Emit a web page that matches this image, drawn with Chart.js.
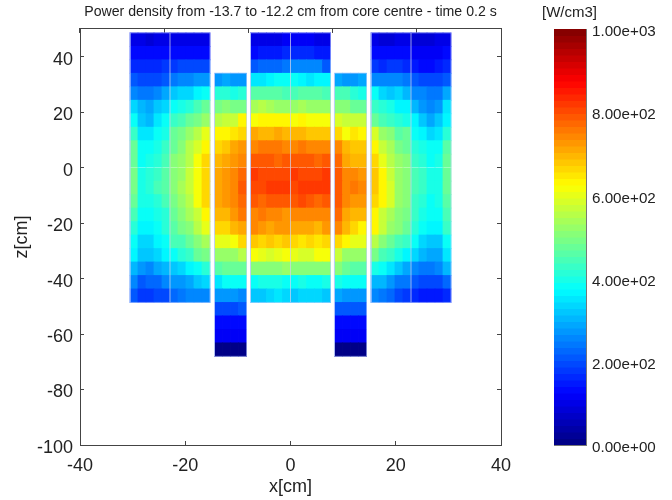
<!DOCTYPE html>
<html>
<head>
<meta charset="utf-8">
<title>Power density</title>
<script src="https://cdn.jsdelivr.net/npm/chart.js@4"></script>
<style>
    html, body { margin: 0; padding: 0; background: #fff; }
    #wrap { position: relative; width: 672px; height: 500px; }
    canvas { position: absolute; top: 0; display: block; }
    #mainChart { left: 0; }
    #barChart { left: 530px; }
</style>
</head>
<body>
<div id="wrap">
    <canvas id="mainChart" width="672" height="500"></canvas>
    <canvas id="barChart" width="142" height="500"></canvas>
</div>
<script>
const titleText = 'Power density from -13.7 to -12.2 cm from core centre - time 0.2 s';
const unitText = '[W/cm3]';
const xTicks = [-40, -20, 0, 20, 40];
const zTicks = [-100, -80, -60, -40, -20, 0, 20, 40];
const barTicks = [0, 200, 400, 600, 800, 1000];
const barLabels = ['0.00e+00', '2.00e+02', '4.00e+02', '6.00e+02', '8.00e+02', '1.00e+03'];

// z edges of the rows, top to bottom [cm]
const zEdges = [48.6, 43.74, 38.88, 34.02, 29.16, 24.3, 19.44, 14.58, 9.72, 4.86, 0,
    -4.86, -9.72, -14.58, -19.44, -24.3, -29.16, -34.02, -38.88, -43.74, -48.6,
    -53.46, -58.32, -63.18, -68.04];

// column centres of each assembly group [cm]
const leftOuterX = [-29.74, -28.22, -26.7, -25.18, -23.66, -22.14, -20.62, -19.1, -17.58, -16.06];
const leftInnerX = [-13.68, -12.16, -10.64, -9.12];
const centreX = [-6.84, -5.32, -3.8, -2.28, -0.76, 0.76, 2.28, 3.8, 5.32, 6.84];
const rightInnerX = [9.12, 10.64, 12.16, 13.68];
const rightOuterX = [16.06, 17.58, 19.1, 20.62, 22.14, 23.66, 25.18, 26.7, 28.22, 29.74];

// power density, rows top to bottom [W/cm3]
const leftOuter = [
    [100, 100, 90, 95, 100, 105, 105, 105, 105, 95],
    [130, 130, 130, 130, 130, 135, 135, 135, 135, 135],
    [165, 170, 165, 170, 175, 185, 190, 190, 190, 190],
    [205, 190, 190, 200, 210, 235, 250, 260, 280, 280],
    [265, 235, 245, 265, 285, 320, 335, 340, 365, 375],
    [340, 310, 285, 320, 340, 380, 395, 410, 440, 470],
    [375, 320, 300, 345, 375, 430, 440, 470, 490, 520],
    [425, 350, 350, 375, 400, 470, 490, 520, 560, 600],
    [470, 385, 385, 400, 430, 480, 510, 550, 590, 630],
    [480, 390, 395, 420, 450, 500, 520, 560, 620, 660],
    [490, 405, 410, 430, 455, 510, 530, 570, 620, 670],
    [495, 405, 415, 440, 460, 510, 540, 570, 620, 670],
    [470, 395, 400, 420, 445, 495, 520, 560, 610, 660],
    [440, 385, 375, 400, 420, 480, 505, 540, 570, 630],
    [420, 370, 360, 385, 410, 465, 490, 510, 550, 600],
    [385, 340, 340, 370, 385, 440, 450, 470, 510, 540],
    [360, 320, 320, 340, 365, 390, 410, 430, 470, 490],
    [305, 275, 260, 290, 310, 320, 340, 365, 375, 410],
    [255, 215, 225, 225, 250, 280, 280, 295, 320, 340],
    [210, 175, 175, 195, 195, 225, 240, 250, 255, 265]
];
const leftInner = [
    [280, 285, 280, 275],
    [420, 410, 405, 410],
    [490, 500, 490, 495],
    [550, 570, 575, 625],
    [635, 630, 650, 670],
    [670, 680, 710, 725],
    [700, 705, 725, 745],
    [710, 730, 745, 775],
    [715, 730, 745, 785],
    [715, 725, 745, 780],
    [690, 700, 725, 750],
    [660, 670, 695, 705],
    [600, 595, 620, 670],
    [525, 530, 520, 560],
    [460, 470, 470, 470],
    [355, 375, 385, 375],
    [275, 270, 270, 265],
    [200, 190, 195, 210],
    [140, 125, 125, 130],
    [110, 110, 110, 120],
    [10, 10, 10, 10]
];
const centre = [
    [100, 95, 100, 105, 110, 115, 115, 110, 100, 100],
    [130, 145, 150, 150, 165, 165, 170, 165, 150, 150],
    [210, 220, 230, 230, 240, 250, 255, 255, 250, 210],
    [345, 350, 370, 385, 375, 375, 365, 350, 365, 365],
    [460, 465, 465, 460, 440, 450, 460, 460, 455, 450],
    [540, 550, 540, 520, 530, 530, 535, 530, 530, 525],
    [620, 630, 625, 640, 625, 615, 635, 610, 610, 610],
    [705, 695, 690, 710, 700, 700, 695, 680, 685, 685],
    [745, 755, 750, 750, 740, 745, 750, 745, 740, 740],
    [790, 785, 785, 775, 795, 790, 785, 790, 780, 795],
    [815, 805, 805, 810, 810, 815, 810, 805, 800, 820],
    [810, 805, 815, 815, 815, 810, 815, 815, 820, 820],
    [795, 780, 790, 785, 795, 795, 800, 790, 775, 790],
    [745, 755, 745, 740, 730, 735, 740, 745, 740, 735],
    [735, 725, 710, 725, 730, 705, 715, 705, 700, 730],
    [680, 670, 680, 665, 680, 660, 650, 660, 650, 670],
    [610, 600, 590, 600, 615, 600, 590, 590, 610, 610],
    [505, 505, 505, 510, 520, 505, 500, 505, 510, 510],
    [390, 395, 395, 400, 385, 385, 395, 385, 390, 395],
    [320, 325, 335, 350, 340, 325, 330, 340, 330, 325]
];
const rightInner = [
    [285, 275, 280, 285],
    [440, 450, 415, 405],
    [510, 500, 475, 470],
    [590, 565, 570, 565],
    [660, 620, 645, 640],
    [745, 690, 680, 680],
    [770, 705, 700, 700],
    [785, 740, 740, 730],
    [790, 745, 750, 735],
    [785, 740, 725, 720],
    [770, 705, 695, 695],
    [735, 690, 670, 640],
    [660, 625, 600, 595],
    [575, 530, 525, 520],
    [510, 480, 465, 455],
    [395, 380, 375, 375],
    [285, 275, 280, 280],
    [205, 210, 210, 210],
    [140, 125, 125, 130],
    [120, 110, 110, 115],
    [10, 10, 10, 10]
];
const rightOuter = [
    [100, 90, 90, 100, 105, 90, 90, 90, 95, 100],
    [130, 125, 125, 125, 125, 115, 115, 120, 120, 125],
    [175, 170, 185, 175, 160, 155, 140, 140, 150, 170],
    [265, 255, 250, 255, 240, 205, 200, 190, 190, 215],
    [375, 340, 320, 330, 300, 260, 250, 235, 235, 290],
    [430, 410, 395, 370, 360, 300, 275, 265, 270, 355],
    [480, 450, 430, 415, 400, 370, 320, 290, 320, 365],
    [590, 530, 510, 465, 470, 385, 370, 340, 345, 420],
    [630, 570, 540, 490, 480, 410, 395, 375, 385, 455],
    [660, 600, 560, 520, 505, 435, 410, 385, 395, 470],
    [680, 625, 575, 530, 510, 445, 425, 395, 405, 480],
    [675, 630, 580, 530, 510, 440, 430, 395, 405, 475],
    [670, 630, 580, 530, 500, 435, 415, 390, 395, 460],
    [640, 570, 535, 515, 490, 430, 395, 375, 375, 445],
    [625, 565, 520, 500, 480, 410, 380, 365, 365, 430],
    [560, 510, 470, 450, 425, 375, 335, 320, 320, 385],
    [490, 450, 430, 400, 370, 335, 300, 290, 290, 355],
    [395, 380, 355, 315, 295, 260, 245, 245, 250, 305],
    [310, 305, 270, 245, 245, 205, 190, 190, 195, 225],
    [255, 240, 220, 195, 175, 165, 150, 150, 145, 165]
];

// assembly outlines and the seams between sub-assemblies [cm]
const outlineXEdges = [[-30.5, -15.3], [-14.44, -8.36], [-7.6, 7.6], [8.36, 14.44], [15.3, 30.5]];
const outlineZEdges = [[-48.6, 48.6], [-68.04, 34.02], [-48.6, 48.6], [-68.04, 34.02], [-48.6, 48.6]];
const seamX = [-22.9, 0, 22.9];

// colour bar levels
const barEdges = [0, 15.625, 31.25, 46.875, 62.5, 78.125, 93.75, 109.375, 125, 140.625, 156.25,
    171.875, 187.5, 203.125, 218.75, 234.375, 250, 265.625, 281.25, 296.875, 312.5, 328.125,
    343.75, 359.375, 375, 390.625, 406.25, 421.875, 437.5, 453.125, 468.75, 484.375, 500,
    515.625, 531.25, 546.875, 562.5, 578.125, 593.75, 609.375, 625, 640.625, 656.25, 671.875,
    687.5, 703.125, 718.75, 734.375, 750, 765.625, 781.25, 796.875, 812.5, 828.125, 843.75,
    859.375, 875, 890.625, 906.25, 921.875, 937.5, 953.125, 968.75, 984.375, 1000];

const FONT = "'Liberation Sans', Arial, sans-serif";
const AXIS_COLOR = '#444';

// 64 level jet colormap
function jet(v) {
    const t = (Math.min(63, Math.floor(v / 1000 * 64)) + 0.5) / 64;
    const ch = (d) => Math.round(255 * Math.max(0, Math.min(1, 1.5 - Math.abs(4 * t - d))));
    return `rgb(${ch(3)},${ch(2)},${ch(1)})`;
}

function cells(xs, rows, firstRow) {
    const out = [];
    rows.forEach((row, r) => {
        row.forEach((v, c) => {
            out.push({ x: xs[c], y: [zEdges[firstRow + r + 1], zEdges[firstRow + r]], v });
        });
    });
    return out;
}

const cellDataset = (xs, rows, firstRow) => ({
    type: 'bar',
    order: 1,
    grouped: false,
    barPercentage: 1,
    categoryPercentage: 1,
    borderWidth: 0,
    inflateAmount: 0.4,
    data: cells(xs, rows, firstRow),
    backgroundColor: (ctx) => jet(ctx.raw ? ctx.raw.v : 0)
});

const lineDataset = (data, color) => ({
    type: 'line',
    order: 0,
    data,
    borderColor: color,
    borderWidth: 1,
    pointRadius: 0,
    tension: 0,
    fill: false
});

const outlineSets = outlineXEdges.map(([x0, x1], i) => {
    const [z0, z1] = outlineZEdges[i];
    return lineDataset([
        { x: x0, y: z0 }, { x: x1, y: z0 }, { x: x1, y: z1 }, { x: x0, y: z1 }, { x: x0, y: z0 }
    ], 'rgba(190,205,255,0.55)');
});
const seamSets = seamX.map((x) => lineDataset([{ x, y: -48.6 }, { x, y: 48.6 }], 'rgba(205,210,235,0.75)'));

const useTicks = (values) => (scale) => {
    scale.ticks = values.map((value) => ({ value }));
};
const plainGrid = { drawOnChartArea: false, tickLength: -4, color: AXIS_COLOR };
const plainBorder = { color: AXIS_COLOR, width: 1 };

new Chart(document.getElementById('mainChart'), {
    type: 'bar',
    data: {
        datasets: [
            cellDataset(leftOuterX, leftOuter, 0),
            cellDataset(leftInnerX, leftInner, 3),
            cellDataset(centreX, centre, 0),
            cellDataset(rightInnerX, rightInner, 3),
            cellDataset(rightOuterX, rightOuter, 0),
            ...outlineSets,
            ...seamSets
        ]
    },
    options: {
        responsive: false,
        animation: false,
        layout: { padding: { left: 0, right: 171, top: 0, bottom: 0 } },
        plugins: {
            legend: { display: false },
            tooltip: { enabled: false },
            title: {
                display: true,
                text: titleText,
                fullSize: false,
                color: '#222',
                font: { family: FONT, size: 14.15, weight: 'normal' },
                padding: { top: 3.5, bottom: 8.5 }
            }
        },
        scales: {
            x: {
                type: 'linear',
                position: 'bottom',
                min: -40,
                max: 40,
                offset: false,
                afterBuildTicks: useTicks(xTicks),
                afterFit: (s) => { s.height = 55; },
                grid: { ...plainGrid, offset: false },
                border: plainBorder,
                ticks: {
                    color: '#222', padding: 14, maxRotation: 0, autoSkip: false,
                    font: { family: FONT, size: 18 }
                },
                title: {
                    display: true, text: 'x[cm]', color: '#222',
                    font: { family: FONT, size: 18 }, padding: { top: 0, bottom: 2 }
                }
            },
            xTop: {
                type: 'linear',
                position: 'top',
                min: -40,
                max: 40,
                afterBuildTicks: useTicks(xTicks),
                afterFit: (s) => { s.height = 0; },
                grid: plainGrid,
                border: plainBorder,
                ticks: { display: false }
            },
            y: {
                type: 'linear',
                position: 'left',
                min: -100,
                max: 50,
                afterBuildTicks: useTicks(zTicks),
                afterFit: (s) => { s.width = 80; },
                grid: plainGrid,
                border: plainBorder,
                ticks: {
                    color: '#222', padding: 11, labelOffset: 3, autoSkip: false,
                    font: { family: FONT, size: 18 }
                },
                title: {
                    display: true, text: 'z[cm]', color: '#222',
                    font: { family: FONT, size: 18 }, padding: { top: 11, bottom: 0 }
                }
            },
            yRight: {
                type: 'linear',
                position: 'right',
                min: -100,
                max: 50,
                afterBuildTicks: useTicks(zTicks),
                afterFit: (s) => { s.width = 0; },
                grid: plainGrid,
                border: plainBorder,
                ticks: { display: false }
            }
        }
    }
});

const levels = barEdges.slice(0, -1).map((lo, i) => ({ x: 0.5, y: [lo, barEdges[i + 1]] }));
const frame = { drawOnChartArea: false, drawTicks: false };
const frameBorder = { color: '#777', width: 1 };

new Chart(document.getElementById('barChart'), {
    type: 'bar',
    data: {
        datasets: [{
            xAxisID: 'x',
            yAxisID: 'values',
            grouped: false,
            barPercentage: 1,
            categoryPercentage: 1,
            borderWidth: 0,
            inflateAmount: 0.4,
            data: levels,
            backgroundColor: (ctx) => jet(ctx.raw ? ctx.raw.y[0] : 0)
        }]
    },
    options: {
        responsive: false,
        animation: false,
        layout: { padding: { left: 12, right: 0, top: 0, bottom: 55 } },
        plugins: {
            legend: { display: false },
            tooltip: { enabled: false },
            title: {
                display: true,
                text: unitText,
                align: 'start',
                color: '#222',
                font: { family: FONT, size: 15, weight: 'normal' },
                padding: { top: 4, bottom: 7 }
            }
        },
        scales: {
            x: {
                type: 'linear',
                position: 'bottom',
                min: 0,
                max: 1,
                offset: false,
                afterBuildTicks: useTicks([0, 1]),
                afterFit: (s) => { s.height = 0; },
                grid: { ...frame, offset: false },
                border: frameBorder,
                ticks: { display: false }
            },
            xTop: {
                type: 'linear',
                position: 'top',
                min: 0,
                max: 1,
                afterFit: (s) => { s.height = 0; },
                grid: frame,
                border: frameBorder,
                ticks: { display: false }
            },
            left: {
                type: 'linear',
                position: 'left',
                min: 0,
                max: 1000,
                afterFit: (s) => { s.width = 12; },
                grid: frame,
                border: frameBorder,
                ticks: { display: false }
            },
            values: {
                type: 'linear',
                position: 'right',
                min: 0,
                max: 1000,
                afterBuildTicks: useTicks(barTicks),
                afterFit: (s) => { s.width = 86; },
                grid: frame,
                border: frameBorder,
                ticks: {
                    color: '#222', padding: 6, labelOffset: 3, autoSkip: false,
                    font: { family: FONT, size: 15.2 },
                    callback: (v) => barLabels[barTicks.indexOf(v)]
                }
            }
        }
    }
});
</script>
</body>
</html>
